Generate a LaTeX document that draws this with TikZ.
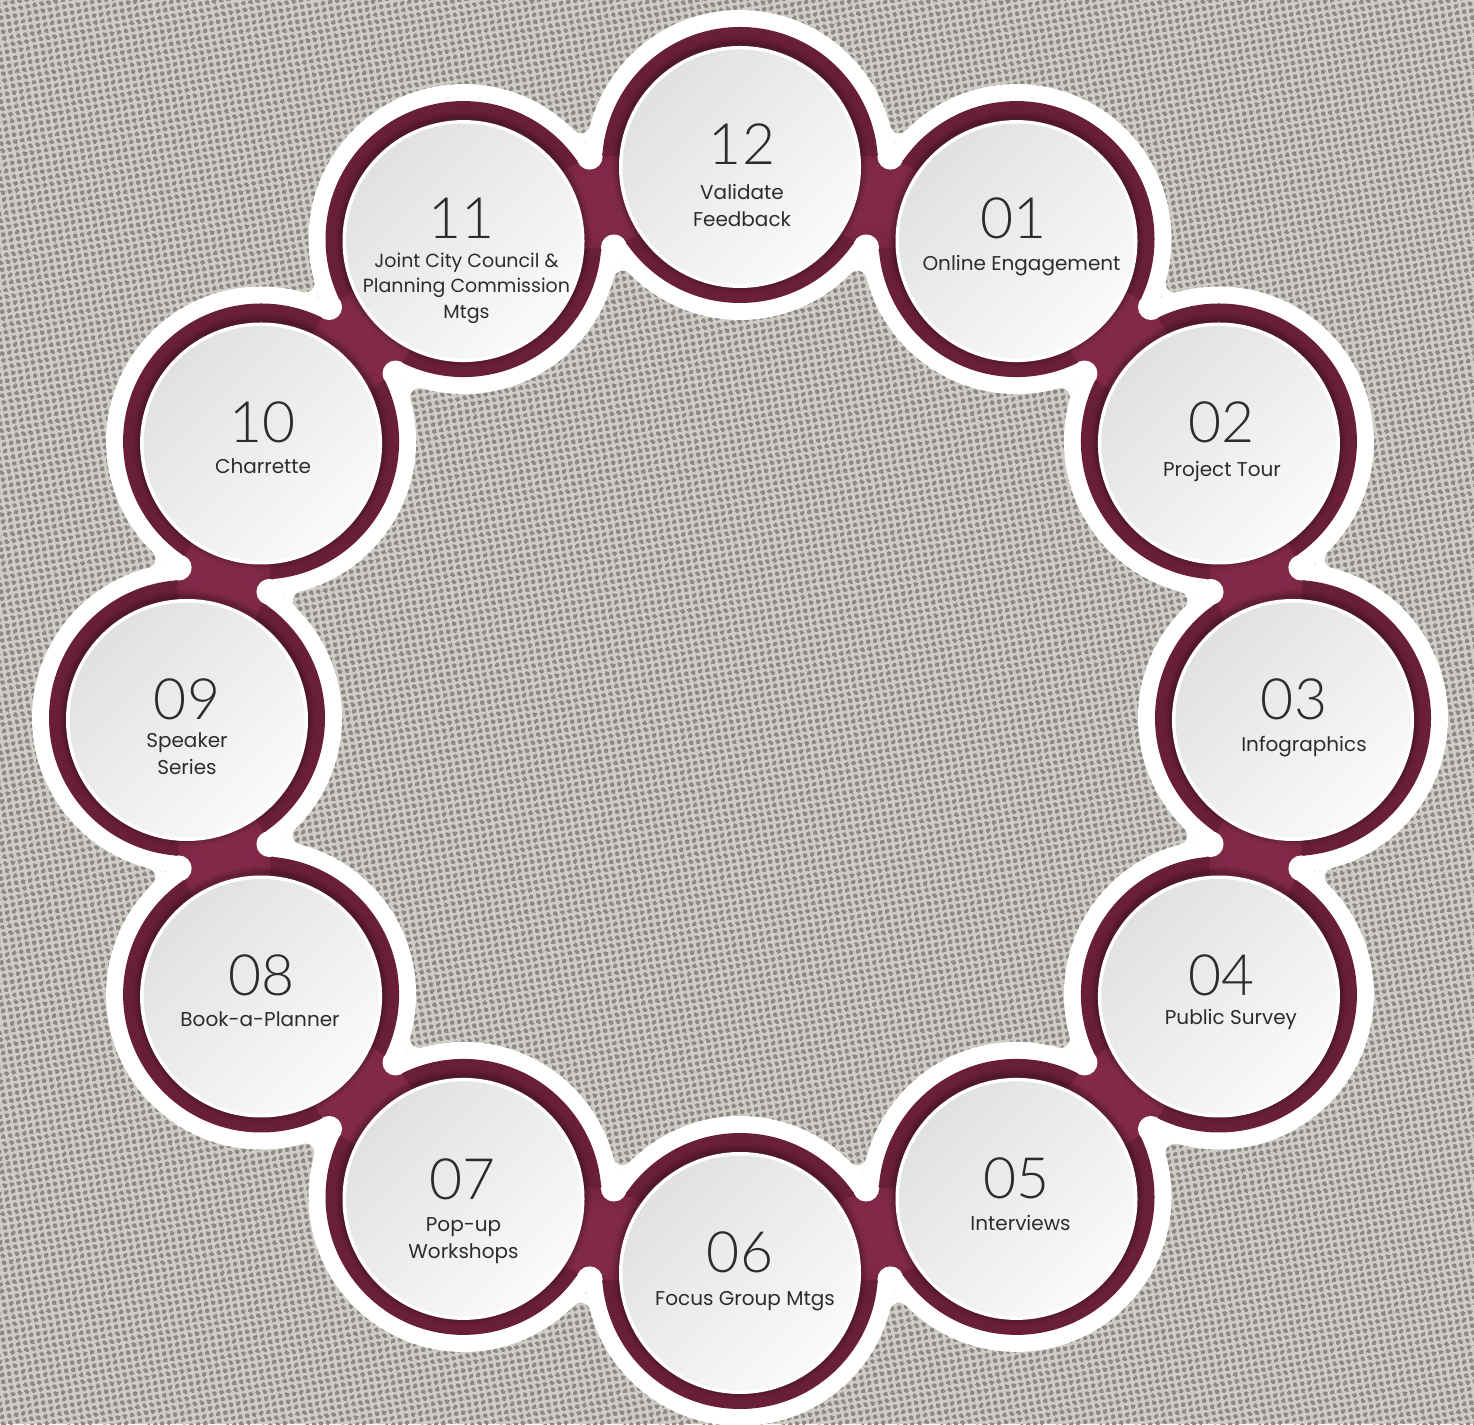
\documentclass[tikz,border=0pt]{standalone}
\usepackage{fontspec}
\setmainfont{Poppins}
\newfontfamily\numfont{Lato Light}
\usetikzlibrary{calc,patterns.meta}
\definecolor{bgA}{HTML}{CFCBC5}
\definecolor{bgDot}{HTML}{8C8985}
\definecolor{maroon}{HTML}{6A1F38}
\definecolor{neckhi}{HTML}{82294A}
\definecolor{diskA}{HTML}{E1E1E1}
\definecolor{diskB}{HTML}{FAFAFA}
\definecolor{txt}{HTML}{2C2C2C}
\pgfdeclareradialshading{neckglow}{\pgfpoint{0bp}{0bp}}{color(0bp)=(neckhi); color(12bp)=(neckhi); color(46bp)=(maroon); color(50bp)=(maroon)}
\tikzdeclarepattern{
  name=bgdots,
  type=uncolored,
  bottom left={(0pt,0pt)},
  top right={(6.8pt,6.8pt)},
  tile size={(6.8pt,6.8pt)},
  tile transformation={rotate=10},
  code={\fill (3.4pt,3.4pt) circle [radius=2.5pt];}
}
\tikzset{
  numtxt/.style={font=\numfont\fontsize{57}{60}\selectfont, text=txt, inner sep=0pt, anchor=center},
  labtxt/.style={font=\fontsize{20}{26.5}\selectfont, text=txt, inner sep=0pt, align=center, anchor=base},
  smalllab/.style={font=\fontsize{19}{25.5}\selectfont},
  outerwhite/.style={fill=white},
  ringfill/.style={fill=maroon},
  neckband/.style={draw=maroon, line width=94pt},
}
% #6,#7: offset of the baseline of the LAST label line; #8 extra style
\newcommand\stage[8]{%
  \node[numtxt] (n#1) at ($(c#1)+(#3,#4)$) {#2};
  \node[labtxt,#8] (l#1) at ($(c#1)+(#6,#7)$) {#5};
}
\begin{document}
\begin{tikzpicture}[x=1pt,y=1pt]
\fill[bgA] (0,0) rectangle (1474,1424);
\fill[pattern=bgdots, pattern color=bgDot] (0,0) rectangle (1474,1424);
\path[use as bounding box] (0,0) rectangle (1474,1424);
% centres
\foreach \k in {0,...,11}{
  \coordinate (c\k) at ({740+553*cos(90-30*\k)},{706+553*sin(90-30*\k)});
  \coordinate (d\k) at ({740+553*cos(90-30*\k)},{704+553*sin(90-30*\k)});
}
% white outer discs
\foreach \k in {0,...,11} \path[outerwhite] (c\k) circle (155);
% rounded notches of the white outline
\foreach \k in {0,...,11}{
  \foreach \s in {1,-1}{
    \fill[white, shift={({740+534.16*cos(75-30*\k)},{706+534.16*sin(75-30*\k)})}, rotate={-15-30*\k}, yscale=\s]
      (-7.85,75.9) -- (0,59.8) -- (7.85,75.9) arc[start angle=-29.3, end angle=-150.7, radius=9] -- cycle;
  }
}
% maroon rings and necks
\foreach \k in {0,...,11} \path[ringfill] (c\k) circle (138);
\foreach \k [evaluate=\k as \j using {int(mod(\k+1,12))}] in {0,...,11} \draw[neckband] (c\k) -- (c\j);
% neck glow
\foreach \k in {0,...,11}
  \shade[shading=neckglow, shift={({740+534.16*cos(75-30*\k)},{706+534.16*sin(75-30*\k)})}, rotate={-15-30*\k}]
    (0,0) ellipse (72 and 44);
% shadow near inner discs
\foreach \k in {0,...,11}{
  \fill[black, opacity=0.06] (c\k) circle (128);
  \fill[black, opacity=0.08] (c\k) circle (125.5);
  \fill[black, opacity=0.10] (c\k) circle (123.5);
}
% white fingers between rings
\foreach \k in {0,...,11}{
  \fill[white] ({740+581.16*cos(75-30*\k)},{706+581.16*sin(75-30*\k)}) circle (13);
  \fill[white] ({740+487.16*cos(75-30*\k)},{706+487.16*sin(75-30*\k)}) circle (13);
}
% inner discs
\foreach \k in {0,...,11}{
  \fill[white] (d\k) circle (121);
  \shade[top color=diskA, bottom color=diskB, shading angle=45] (d\k) circle (117.5);
}
% texts
\stage{0}{12}{2}{21}{Validate\\Feedback}{2}{-61.5}{}
\stage{1}{01}{-3}{21}{Online Engagement}{5}{-31}{}
\stage{2}{02}{3}{19}{Project Tour}{3}{-35}{}
\stage{3}{03}{1}{19}{Infographics}{11}{-34}{}
\stage{4}{04}{3}{19}{Public Survey}{12}{-30}{}
\stage{5}{05}{0}{19}{Interviews}{4}{-34}{}
\stage{6}{06}{0}{19}{Focus Group Mtgs}{5}{-34}{}
\stage{7}{07}{-1}{18}{Pop-up\\Workshops}{0}{-61.5}{}
\stage{8}{08}{0}{19}{Book-a-Planner}{-1}{-32}{}
\stage{9}{09}{0}{19}{Speaker\\Series}{0}{-56.5}{}
\stage{10}{10}{1}{19}{Charrette}{2}{-32}{}
\stage{11}{11}{-2}{21}{Joint City Council \&\\Planning Commission\\Mtgs}{3}{-79}{smalllab}
\end{tikzpicture}
\end{document}
